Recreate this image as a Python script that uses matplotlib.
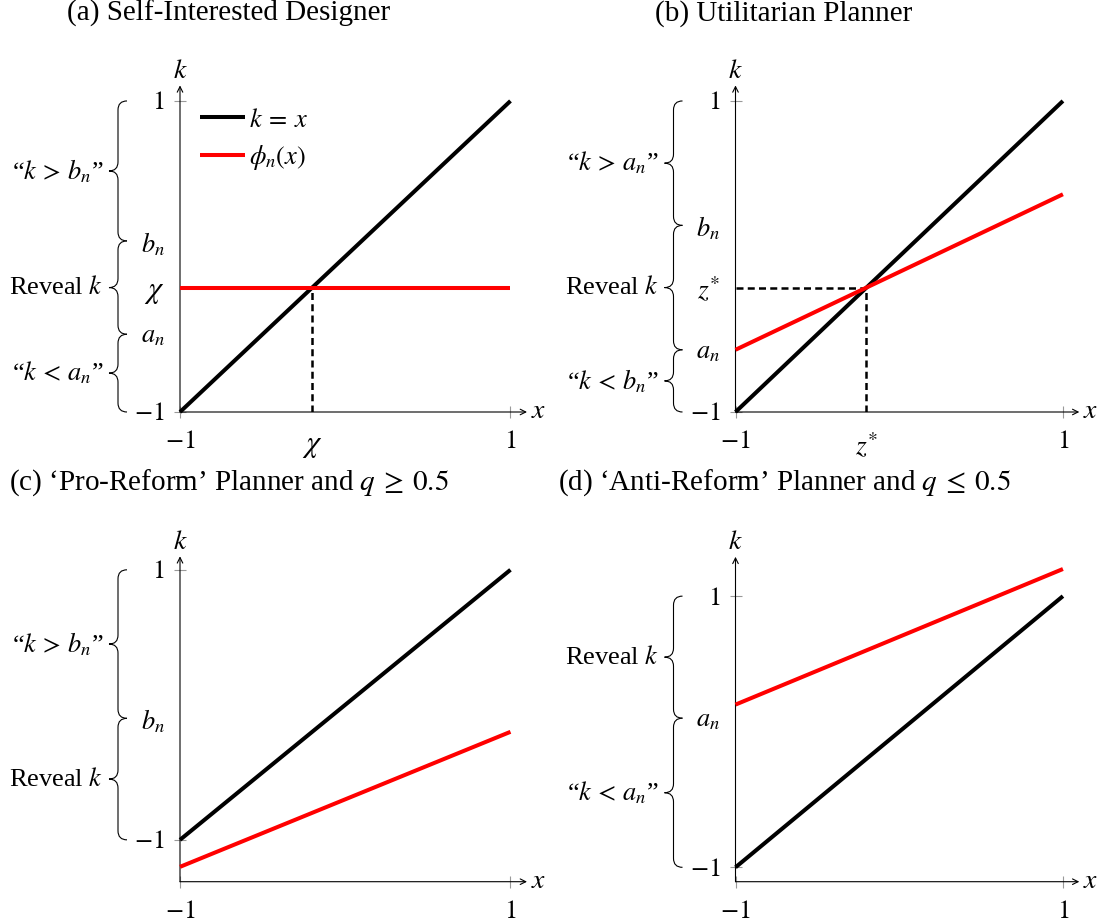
import matplotlib
matplotlib.use('Agg')
import matplotlib.pyplot as plt
from matplotlib.path import Path
from matplotlib.patches import PathPatch
from matplotlib.transforms import IdentityTransform

plt.rcParams['font.family'] = ['Liberation Serif', 'DejaVu Serif']
plt.rcParams['mathtext.fontset'] = 'stix'

W, H = 1105, 924

# x range of every panel, and the 45-degree line k = x
x_ends = [-1, 1]
diag = [-1, 1]

# (a) self-interested designer
chi = -0.2
a_phi = [chi, chi]
a_bn, a_an = 0.1, -0.5
# (b) utilitarian planner
b_phi = [-0.6, 0.4]
z_star = -0.2
b_bn, b_an = 0.2, -0.6
# (c) pro-reform planner
c_phi = [-1.2, -0.2]
c_bn = -0.1
# (d) anti-reform planner
d_phi = [0.2, 1.2]
d_an = 0.1

titles = ['(a) Self-Interested Designer', '(b) Utilitarian Planner',
          "(c) \u2018Pro-Reform\u2019 Planner and $q \\:\\geq\\: 0.5$",
          "(d) \u2018Anti-Reform\u2019 Planner and $q \\:\\leq\\: 0.5$"]

FS = 19

fig = plt.figure(figsize=(W / 100, H / 100), dpi=100)


def make_axes(left, bottom, width, height, ylo, yhi):
    ax = fig.add_axes([left / W, bottom / H, width / W, height / H])
    ax.set_xlim(-1, 1.1)
    ax.set_ylim(ylo, yhi)
    for s in ax.spines.values():
        s.set_visible(False)
    arr = dict(arrowstyle='->', lw=0.8, color='k', shrinkA=0, shrinkB=0)
    ax.annotate('', xy=(1.1, ylo), xytext=(-1, ylo), arrowprops=arr, annotation_clip=False)
    ax.annotate('', xy=(-1, yhi), xytext=(-1, ylo), arrowprops=arr, annotation_clip=False)
    ax.annotate('$k$', xy=(-1, yhi), xytext=(0, 10), textcoords='offset points',
                ha='center', va='center', fontsize=FS + 1, annotation_clip=False)
    ax.annotate('$x$', xy=(1.1, ylo), xytext=(8, 0), textcoords='offset points',
                ha='center', va='center', fontsize=FS + 1, annotation_clip=False)
    ax.tick_params(axis='both', direction='inout', length=8, width=0.8,
                   color='#999999', labelsize=FS)
    ax.tick_params(axis='x', pad=10)
    ax.tick_params(axis='y', pad=7)
    return ax


def set_ticks(ax, xt, xl, yt, yl):
    ax.set_xticks(xt)
    ax.set_xticklabels(xl)
    ax.set_yticks(yt)
    ax.set_yticklabels(yl)
    # only the end points carry a tick mark
    for t, v in zip(ax.xaxis.get_major_ticks(), xt):
        if abs(abs(v) - 1) > 1e-9:
            t.tick1line.set_visible(False)
    for t, v in zip(ax.yaxis.get_major_ticks(), yt):
        if abs(abs(v) - 1) > 1e-9:
            t.tick1line.set_visible(False)
    # the chi / z* labels are set a bit larger
    for lab in ax.get_xticklabels() + ax.get_yticklabels():
        if 'chi' in lab.get_text():
            lab.set_fontsize(FS + 3)
        elif 'z' in lab.get_text():
            lab.set_fontsize(FS + 1)


def brace(ax, ylo, yhi, label):
    x0 = ax.transData.transform((-1, 0))[0]
    xs = x0 - 62
    xe = xs + 9
    xt = xs - 9
    plo = ax.transData.transform((-1, ylo))[1]
    phi = ax.transData.transform((-1, yhi))[1]
    pm = (plo + phi) / 2
    q = 9
    verts = [(xe, phi), (xs, phi), (xs, phi - q), (xs, pm + q),
             (xs, pm), (xt, pm), (xs, pm), (xs, pm - q), (xs, plo + q),
             (xs, plo), (xe, plo)]
    codes = [Path.MOVETO, Path.CURVE3, Path.CURVE3, Path.LINETO,
             Path.CURVE3, Path.CURVE3, Path.CURVE3, Path.CURVE3, Path.LINETO,
             Path.CURVE3, Path.CURVE3]
    fig.add_artist(PathPatch(Path(verts, codes), fill=False, lw=0.8, color='k',
                             transform=IdentityTransform(), clip_on=False))
    fig.text(xt - 6, pm, label, transform=IdentityTransform(), ha='right',
             va='center', fontsize=FS)


def lines(ax, phi):
    ax.plot(x_ends, diag, color='black', lw=2.9, solid_capstyle='butt',
            clip_on=False, zorder=3, label=r'$k\:=\:x$')
    ax.plot(x_ends, phi, color='red', lw=2.9, solid_capstyle='butt',
            clip_on=False, zorder=3, label=r'$\phi_n(x)$')


dash = dict(color='black', lw=1.8, dashes=(2.8, 1.7), zorder=2)

# (a)
ax = make_axes(180, 512, 347, 326.6, -1, 1.1)
lines(ax, a_phi)
ax.plot([chi, chi], [-1, chi], **dash)
set_ticks(ax, [-1, chi, 1], ['$-1$', r'$\chi$', '$1$'],
          [-1, a_an, chi, a_bn, 1], ['$-1$', '$a_n$', r'$\chi$', '$b_n$', '$1$'])
ax.legend(loc='upper left', bbox_to_anchor=(0.057, 0.93), frameon=False,
          fontsize=FS, handlelength=1.7, handletextpad=0.15, labelspacing=0.42,
          borderpad=0, borderaxespad=0)
brace(ax, a_bn, 1, '\u201c$k\\,>\\,b_n$\u201d')
brace(ax, a_an, a_bn, 'Reveal $k$')
brace(ax, -1, a_an, '\u201c$k\\,<\\,a_n$\u201d')

# (b)
ax = make_axes(735.5, 512, 343.8, 326.6, -1, 1.1)
lines(ax, b_phi)
ax.plot([-1, z_star], [z_star, z_star], **dash)
ax.plot([z_star, z_star], [-1, z_star], **dash)
set_ticks(ax, [-1, z_star, 1], ['$-1$', '$z^{*}$', '$1$'],
          [-1, b_an, z_star, b_bn, 1], ['$-1$', '$a_n$', '$z^{*}$', '$b_n$', '$1$'])
brace(ax, b_bn, 1, '\u201c$k\\,>\\,a_n$\u201d')
brace(ax, b_an, b_bn, 'Reveal $k$')
brace(ax, -1, b_an, '\u201c$k\\,<\\,b_n$\u201d')

# (c)
ax = make_axes(180, 42.3, 347, 325.4, -1.31, 1.1)
lines(ax, c_phi)
set_ticks(ax, [-1, 1], ['$-1$', '$1$'], [-1, c_bn, 1], ['$-1$', '$b_n$', '$1$'])
brace(ax, c_bn, 1, '\u201c$k\\,>\\,b_n$\u201d')
brace(ax, -1, c_bn, 'Reveal $k$')

# (d)
ax = make_axes(735.5, 42.3, 343.8, 324.9, -1.106, 1.29)
lines(ax, d_phi)
set_ticks(ax, [-1, 1], ['$-1$', '$1$'], [-1, d_an, 1], ['$-1$', '$a_n$', '$1$'])
brace(ax, d_an, 1, 'Reveal $k$')
brace(ax, -1, d_an, '\u201c$k\\,<\\,a_n$\u201d')

for t, cx, base in zip(titles, [229, 784, 229, 784], [21, 21, 490, 490]):
    fig.text(cx / W, 1 - base / H, t, ha='center', va='baseline', fontsize=21)

fig.savefig('out.png', dpi=100)
